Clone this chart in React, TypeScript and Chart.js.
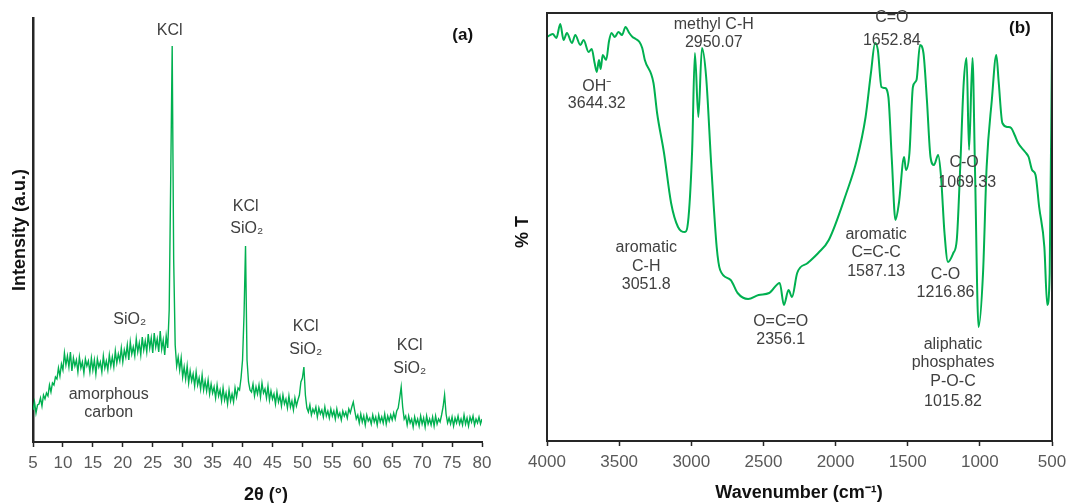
import React, { useEffect, useRef } from "react";
import { Chart, registerables } from "chart.js";

Chart.register(...registerables);

// ---------- Panel (a): XRD ----------
const xrdStart = 5;
const xrdStep = 0.25;
const xrdIntensity = [
  30, 38, 27, 35, 36, 42, 34, 45, 41, 47, 44, 55, 48, 57, 55, 63, 61, 72, 64, 76,
  70, 87, 75, 84, 73, 88, 69, 82, 74, 80, 68, 83, 72, 78, 67, 81, 74, 79, 68, 82,
  70, 80, 66, 81, 73, 78, 68, 84, 72, 79, 70, 85, 74, 83, 73, 89, 77, 86, 79, 92,
  78, 90, 83, 95, 80, 98, 86, 93, 84, 101, 88, 97, 85, 103, 90, 99, 88, 106, 92, 102,
  87, 107, 93, 101, 88, 109, 91, 100, 85, 104, 92, 130, 260, 394, 180, 95, 74, 83, 70, 82,
  63, 73, 61, 74, 57, 69, 59, 66, 54, 68, 55, 62, 51, 65, 50, 59, 49, 60, 46, 56,
  47, 53, 42, 55, 44, 50, 39, 52, 40, 47, 36, 50, 39, 46, 38, 52, 43, 52, 50, 62,
  80, 125, 194, 80, 58, 50, 48, 56, 44, 53, 46, 55, 43, 57, 47, 51, 42, 54, 40, 49,
  41, 46, 36, 48, 38, 44, 34, 45, 36, 41, 32, 44, 33, 39, 30, 42, 34, 40, 45, 58,
  62, 73, 45, 32, 28, 35, 25, 31, 27, 33, 23, 32, 26, 30, 23, 33, 24, 29, 22, 31,
  24, 29, 21, 31, 23, 27, 20, 29, 24, 28, 22, 31, 27, 33, 38, 29, 21, 25, 17, 26,
  18, 24, 15, 25, 19, 22, 16, 25, 18, 23, 15, 25, 18, 23, 17, 26, 16, 24, 19, 25,
  20, 27, 21, 29, 32, 42, 53, 33, 21, 24, 15, 24, 17, 21, 13, 23, 16, 21, 14, 24,
  16, 22, 13, 24, 16, 21, 15, 23, 14, 24, 16, 21, 18, 25, 33, 45, 26, 17, 22, 16,
  23, 14, 22, 17, 24, 16, 21, 15, 25, 16, 22, 14, 23, 18, 24, 15, 21, 17, 23, 16, 21,
];
const xrdMin = 5;
const xrdMax = 80;
const xrdTickStep = 5;

const xrdNotes = [
  { text: "KCl", x: 27.83, y: 409 },
  { text: "(a)", x: 76.77, y: 405, bold: true },
  { text: "KCl", x: 40.53, y: 233 },
  { text: "SiO₂", x: 40.69, y: 211 },
  { text: "SiO₂", x: 21.15, y: 120 },
  { text: "KCl", x: 50.55, y: 113 },
  { text: "SiO₂", x: 50.55, y: 90 },
  { text: "KCl", x: 67.92, y: 94 },
  { text: "SiO₂", x: 67.92, y: 71 },
  { text: "amorphous", x: 17.65, y: 45 },
  { text: "carbon", x: 17.65, y: 27 },
];

// ---------- Panel (b): FTIR ----------
const ftirWavenumber = [
  4000, 3960, 3935, 3908, 3885, 3862, 3827, 3804, 3769, 3746, 3712, 3690, 3670, 3655, 3640, 3628,
  3614, 3590, 3570, 3553, 3530, 3505, 3480, 3456, 3430, 3407, 3385, 3359, 3340, 3322, 3262, 3237,
  3189, 3140, 3092, 3043, 3019, 2994, 2975, 2951, 2926, 2897, 2861, 2824, 2800, 2727, 2679, 2606,
  2533, 2460, 2387, 2358, 2326, 2302, 2266, 2193, 2120, 2047, 1925, 1853, 1792, 1755, 1726, 1707,
  1682, 1658, 1634, 1610, 1585, 1561, 1525, 1512, 1488, 1464, 1439, 1415, 1391, 1367, 1342, 1318,
  1289, 1269, 1245, 1221, 1184, 1160, 1136, 1112, 1092, 1075, 1051, 1034, 1009, 978, 953, 917,
  886, 869, 844, 808, 783, 759, 735, 686, 662, 638, 614, 589, 553, 533, 516, 500,
];
const ftirTransmittance = [
  404, 407, 403, 417, 401, 408, 398, 406, 396, 401, 389, 392, 378, 369, 381, 372,
  386, 381, 400, 408, 404, 409, 406, 414, 408, 404, 402, 399, 393, 381, 358, 328,
  288, 238, 214, 209, 224, 291, 388, 324, 393, 364, 274, 194, 171, 161, 148, 142,
  146, 148, 158, 136, 151, 144, 168, 178, 188, 201, 248, 281, 324, 368, 398, 391,
  354, 353, 344, 281, 221, 238, 284, 271, 288, 354, 361, 396, 388, 341, 284, 276,
  286, 264, 208, 179, 188, 201, 274, 358, 383, 291, 383, 274, 114, 168, 274, 341,
  386, 358, 318, 314, 313, 306, 298, 289, 284, 271, 266, 234, 194, 136, 168, 399,
];
const ftirMin = 500;
const ftirMax = 4000;
const ftirTickStep = 500;

const ftirNotes = [
  { text: "methyl C-H", x: 2844, y: 416 },
  { text: "2950.07", x: 2844, y: 398 },
  { text: "C=O", x: 1610, y: 423 },
  { text: "1652.84", x: 1610, y: 400 },
  { text: "(b)", x: 723, y: 413, bold: true },
  { text: "OH⁻", x: 3655, y: 354 },
  { text: "3644.32", x: 3655, y: 337 },
  { text: "C-O", x: 1109, y: 278 },
  { text: "1069.33", x: 1088, y: 258 },
  { text: "aromatic", x: 3312, y: 193 },
  { text: "C-H", x: 3312, y: 174 },
  { text: "3051.8", x: 3312, y: 156 },
  { text: "aromatic", x: 1719, y: 206 },
  { text: "C=C-C", x: 1719, y: 188 },
  { text: "1587.13", x: 1719, y: 169 },
  { text: "C-O", x: 1238, y: 166 },
  { text: "1216.86", x: 1238, y: 148 },
  { text: "O=C=O", x: 2380, y: 119 },
  { text: "2356.1", x: 2380, y: 101 },
  { text: "aliphatic", x: 1186, y: 96 },
  { text: "phosphates", x: 1186, y: 78 },
  { text: "P-O-C", x: 1186, y: 59 },
  { text: "1015.82", x: 1186, y: 39 },
];

// ---------- shared styling ----------
const FONT = '"Liberation Sans", Arial, sans-serif';
const GREEN = "#00B050";
const TEXT = "#404040";
const AXIS = "#262626";

type Note = { text: string; x: number; y: number; bold?: boolean };
type Title = { text: string; x: number; y: number; rotate?: boolean };

function notesPlugin(notes: Note[], titles: Title[], frame: boolean) {
  return {
    id: "notes",
    afterDraw(chart: any) {
      const { ctx, scales, chartArea } = chart;
      ctx.save();
      if (frame) {
        ctx.strokeStyle = AXIS;
        ctx.lineWidth = 2;
        ctx.strokeRect(chartArea.left, chartArea.top, chartArea.right - chartArea.left, chartArea.bottom - chartArea.top);
      }
      ctx.textAlign = "center";
      ctx.textBaseline = "middle";
      for (const n of notes) {
        ctx.font = n.bold ? `bold 17px ${FONT}` : `16px ${FONT}`;
        ctx.fillStyle = n.bold ? "#111" : TEXT;
        ctx.fillText(n.text, scales.x.getPixelForValue(n.x), scales.y.getPixelForValue(n.y));
      }
      ctx.font = `bold 18px ${FONT}`;
      ctx.fillStyle = "#111";
      for (const t of titles) {
        if (t.rotate) {
          ctx.save();
          ctx.translate(t.x, t.y);
          ctx.rotate(-Math.PI / 2);
          ctx.fillText(t.text, 0, 0);
          ctx.restore();
        } else {
          ctx.fillText(t.text, t.x, t.y);
        }
      }
      ctx.restore();
    },
  };
}

function fixY(scale: any) {
  scale.width = 0;
}
function fixX(h: number) {
  return (scale: any) => {
    scale.height = h;
    scale.paddingLeft = 0;
    scale.paddingRight = 0;
  };
}
const plainTick = (v: any) => String(v);

const A_W = 505;
const B_LEFT = 505;
const B_W = 565;
const H = 503;

export default function App() {
  const aRef = useRef<HTMLCanvasElement | null>(null);
  const bRef = useRef<HTMLCanvasElement | null>(null);

  useEffect(() => {
    const xrdPoints = xrdIntensity.map((v, i) => ({ x: xrdStart + i * xrdStep, y: v }));
    const chartA = new Chart(aRef.current as HTMLCanvasElement, {
      type: "line",
      data: {
        datasets: [
          {
            data: xrdPoints,
            borderColor: GREEN,
            borderWidth: 1.4,
            pointRadius: 0,
            tension: 0,
            fill: false,
          },
        ],
      },
      options: {
        animation: false,
        responsive: false,
        devicePixelRatio: 1,
        layout: { padding: { left: 33, top: 18, right: 23, bottom: 0 } },
        plugins: { legend: { display: false }, tooltip: { enabled: false } },
        scales: {
          x: {
            type: "linear",
            min: xrdMin,
            max: xrdMax,
            afterFit: fixX(61),
            grid: { display: true, drawOnChartArea: false, drawTicks: true, tickLength: 5, tickColor: AXIS, tickWidth: 1.5, color: AXIS },
            border: { display: true, color: AXIS, width: 2 },
            ticks: { stepSize: xrdTickStep, padding: 6, color: "#595959", font: { family: FONT, size: 17 }, maxRotation: 0, autoSkip: false, callback: plainTick },
          },
          y: {
            min: -2,
            max: 422,
            afterFit: fixY,
            grid: { display: false },
            border: { display: true, color: AXIS, width: 2.5 },
            ticks: { display: false },
          },
        },
      },
      plugins: [
        notesPlugin(xrdNotes, [
          { text: "2θ (°)", x: 266, y: 495 },
          { text: "Intensity (a.u.)", x: 20, y: 230, rotate: true },
        ], false),
      ],
    } as any);

    const ftirPoints = ftirWavenumber.map((w, i) => ({ x: w, y: ftirTransmittance[i] }));
    const chartB = new Chart(bRef.current as HTMLCanvasElement, {
      type: "line",
      data: {
        datasets: [
          {
            data: ftirPoints,
            borderColor: GREEN,
            borderWidth: 2,
            pointRadius: 0,
            cubicInterpolationMode: "monotone",
            fill: false,
          },
        ],
      },
      options: {
        animation: false,
        responsive: false,
        devicePixelRatio: 1,
        layout: { padding: { left: 42, top: 13, right: 18, bottom: 0 } },
        plugins: { legend: { display: false }, tooltip: { enabled: false } },
        scales: {
          x: {
            type: "linear",
            reverse: true,
            min: ftirMin,
            max: ftirMax,
            afterFit: fixX(62),
            grid: { display: true, drawOnChartArea: false, drawTicks: true, tickLength: 5, tickColor: AXIS, tickWidth: 1.5, color: AXIS },
            border: { display: true, color: AXIS, width: 2 },
            ticks: { stepSize: ftirTickStep, padding: 6, color: "#595959", font: { family: FONT, size: 17 }, maxRotation: 0, autoSkip: false, callback: plainTick },
          },
          y: {
            min: 0,
            max: 428,
            afterFit: fixY,
            grid: { display: false },
            border: { display: false },
            ticks: { display: false },
          },
        },
      },
      plugins: [
        notesPlugin(ftirNotes, [
          { text: "Wavenumber (cm⁻¹)", x: 294, y: 493 },
          { text: "% T", x: 18, y: 232, rotate: true },
        ], true),
      ],
    } as any);

    return () => {
      chartA.destroy();
      chartB.destroy();
    };
  }, []);

  return (
    <div style={{ position: "absolute", left: 0, top: 0, width: 1070, height: H, background: "#fff" }}>
      <canvas ref={aRef} width={A_W} height={H} style={{ position: "absolute", left: 0, top: 0 }} />
      <canvas ref={bRef} width={B_W} height={H} style={{ position: "absolute", left: B_LEFT, top: 0 }} />
    </div>
  );
}
